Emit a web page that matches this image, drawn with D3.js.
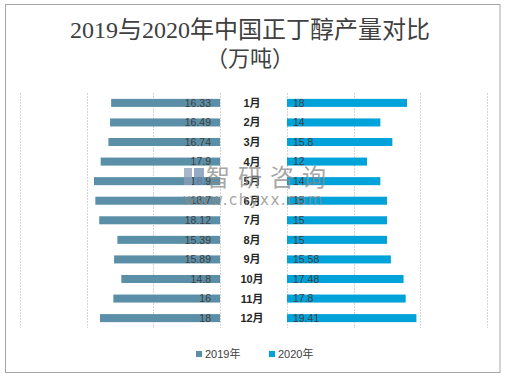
<!DOCTYPE html>
<html><head><meta charset="utf-8">
<script src="https://cdn.jsdelivr.net/npm/d3@7"></script>
<style>body{margin:0;background:#fff}svg{display:block}</style>
</head><body>
<script>
const months = ["1月","2月","3月","4月","5月","6月","7月","8月","9月","10月","11月","12月"];
const v2019 = [16.33,16.49,16.74,17.9,18.9,18.7,18.12,15.39,15.89,14.8,16,18];
const v2020 = [18,14,15.8,12,14,15,15,15,15.58,17.48,17.8,19.41];
const seriesNames = ["2019年","2020年"];
const colors = ["#5b8fa7","#00a2da"];
const gridTicks = [0,10,20,30];

const W=505,H=378;
const svg=d3.select("body").append("svg").attr("width",W).attr("height",H);
svg.append("rect").attr("x",5.5).attr("y",4.5).attr("width",494.5).attr("height",368).attr("fill","#fff").attr("stroke","#a6a6a6");

// title
const tf="'Liberation Serif','Noto Sans CJK SC',serif";
svg.append("text").attr("x",250).attr("y",38).attr("text-anchor","middle").attr("font-family",tf).attr("font-size",24).attr("fill","#404040").text("2019与2020年中国正丁醇产量对比");
svg.append("text").attr("x",250).attr("y",66).attr("text-anchor","middle").attr("font-family",tf).attr("font-size",22).attr("fill","#404040").text("（万吨）");

const xL=d3.scaleLinear().domain([0,30]).range([220,20]);
const xR=d3.scaleLinear().domain([0,30]).range([287,487]);
const y=d3.scaleBand().domain(months).range([93,328]).paddingInner(0.59).paddingOuter(0.3);

const g=svg.append("g");
[xL,xR].forEach(sc=>{
  g.selectAll(null).data(gridTicks).enter().append("line")
   .attr("x1",d=>Math.round(sc(d))+0.5).attr("x2",d=>Math.round(sc(d))+0.5)
   .attr("y1",93).attr("y2",328).attr("stroke","#d4d4d4").attr("stroke-dasharray","2,1");
});

g.selectAll(".b19").data(months).enter().append("rect")
 .attr("x",(d,i)=>xL(v2019[i])).attr("y",d=>y(d)).attr("width",(d,i)=>xL(0)-xL(v2019[i])).attr("height",y.bandwidth()).attr("fill",colors[0]);
g.selectAll(".b20").data(months).enter().append("rect")
 .attr("x",xR(0)).attr("y",d=>y(d)).attr("width",(d,i)=>xR(v2020[i])-xR(0)).attr("height",y.bandwidth()).attr("fill",colors[1]);

const lf="'Liberation Sans','Noto Sans CJK SC',sans-serif";
g.selectAll(".l19").data(months).enter().append("text")
 .attr("x",xL(0)-9).attr("y",d=>y(d)+y.bandwidth()/2).attr("dy","0.36em").attr("text-anchor","end")
 .attr("font-family",lf).attr("font-size",10.5).attr("fill","#404040").text((d,i)=>v2019[i]);
g.selectAll(".l20").data(months).enter().append("text")
 .attr("x",xR(0)+6).attr("y",d=>y(d)+y.bandwidth()/2).attr("dy","0.36em")
 .attr("font-family",lf).attr("font-size",10.5).attr("fill","#404040").text((d,i)=>v2020[i]);
g.selectAll(".m").data(months).enter().append("text")
 .attr("x",252).attr("y",d=>y(d)+y.bandwidth()/2).attr("dy","0.36em").attr("text-anchor","middle")
 .attr("font-family",lf).attr("font-size",11).attr("font-weight","bold").attr("fill","#262626").text(d=>d);

// legend
const lg=svg.append("g");
[[196,0],[269,1]].forEach(([x,i])=>{
  lg.append("rect").attr("x",x).attr("y",351).attr("width",6).attr("height",6).attr("fill",colors[i]);
  lg.append("text").attr("x",x+9).attr("y",354).attr("dy","0.36em").attr("font-family",lf).attr("font-size",11).attr("fill","#404040").text(seriesNames[i]);
});

// watermark (present in the reference image)
const wm=svg.append("g").attr("opacity",0.75);
wm.append("rect").attr("x",184).attr("y",168).attr("width",8).attr("height",17).attr("fill","#8aa0b8");
wm.append("rect").attr("x",194).attr("y",168).attr("width",10).attr("height",17).attr("fill","#6f8fb5");
wm.append("text").attr("x",206).attr("y",186).attr("font-family","'Noto Sans CJK SC',sans-serif").attr("font-size",24).attr("fill","#8a8a8a").attr("textLength",120).text("智研咨询");
wm.append("text").attr("x",183).attr("y",205).attr("font-family","'DejaVu Sans',sans-serif").attr("font-size",15).attr("fill","#8a8a8a").attr("textLength",139).text("www.chyxx.com");
</script>
</body></html>
